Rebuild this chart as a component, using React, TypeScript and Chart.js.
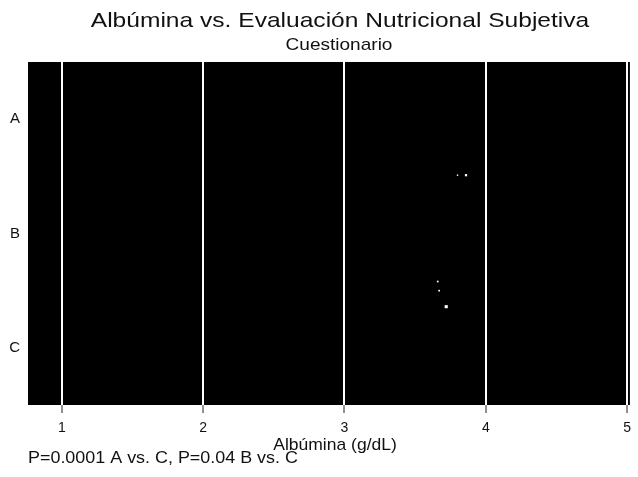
import React, { useEffect, useRef } from "react";
import { Chart, registerables } from "chart.js";

Chart.register(...registerables);

const categories = ["A", "B", "C"];
const xTickValues = [1, 2, 3, 4, 5];
const pointX = [3.8, 3.86, 3.66, 3.67, 3.72];
const pointY = [0.49, 0.49, 1.42, 1.5, 1.64];
const pointRadius = [1, 1.6, 1.2, 1.2, 2.2];

const titleText = "Albúmina vs. Evaluación Nutricional Subjetiva";
const subtitleText = "Cuestionario";
const xAxisTitle = "Albúmina (g/dL)";
const footnoteText = "P=0.0001 A vs. C, P=0.04 B vs. C";

const FONT = "'Liberation Sans', Arial, sans-serif";

function stretchedText(ctx: any, text: string, x: number, y: number, size: number, sx: number, align: string) {
  ctx.save();
  ctx.translate(x, y);
  ctx.scale(sx, 1);
  ctx.font = `${size}px ${FONT}`;
  ctx.textAlign = align;
  ctx.textBaseline = "alphabetic";
  ctx.fillText(text, 0, 0);
  ctx.restore();
}

const bgPlugin = {
  id: "blackArea",
  beforeDraw(chart: any) {
    const { ctx, chartArea: a } = chart;
    ctx.save();
    ctx.fillStyle = "#000";
    ctx.fillRect(a.left, a.top, a.right - a.left, a.bottom - a.top);
    ctx.restore();
  },
  afterDraw(chart: any) {
    const { ctx } = chart;
    ctx.save();
    ctx.fillStyle = "#111";
    stretchedText(ctx, titleText, 340, 27, 21, 1.17, "center");
    stretchedText(ctx, subtitleText, 339, 50, 17, 1.12, "center");
    stretchedText(ctx, xAxisTitle, 335, 450, 17, 1.03, "center");
    stretchedText(ctx, footnoteText, 28, 463, 16, 1.12, "left");
    ctx.restore();
  },
};

export default function App() {
  const ref = useRef<HTMLCanvasElement>(null);
  useEffect(() => {
    document.body.style.margin = "0";
    const chart = new Chart(ref.current!, {
      type: "scatter",
      data: {
        datasets: [
          {
            data: pointX.map((x, i) => ({ x, y: pointY[i] })),
            backgroundColor: "#fff",
            borderColor: "#fff",
            pointRadius: pointRadius,
            pointStyle: "rect",
            borderWidth: 0,
          },
        ],
      },
      options: {
        responsive: false,
        animation: false,
        layout: { padding: { top: 62, right: 7, left: 0, bottom: 0 } },
        plugins: { legend: { display: false }, tooltip: { enabled: false } },
        scales: {
          x: {
            type: "linear",
            min: 0.76,
            max: 5.02,
            afterBuildTicks: (s: any) => {
              s.ticks = xTickValues.map((v) => ({ value: v }));
            },
            afterFit: (s: any) => {
              s.height = 72;
            },
            border: { display: false },
            grid: {
              color: "#fff",
              lineWidth: 2,
              tickColor: "#222",
              tickLength: 8,
              tickWidth: 1,
            },
            ticks: {
              color: "#111",
              font: { family: FONT, size: 14 },
              padding: 7,
              maxRotation: 0,
            },
          },
          y: {
            type: "linear",
            reverse: true,
            min: -0.5,
            max: 2.5,
            afterBuildTicks: (s: any) => {
              s.ticks = categories.map((_, i) => ({ value: i }));
            },
            afterFit: (s: any) => {
              s.width = 28;
            },
            border: { display: false },
            grid: { display: false, drawTicks: false },
            ticks: {
              color: "#111",
              font: { family: FONT, size: 15 },
              padding: 8,
              callback: (v: any) => categories[Math.round(Number(v))] ?? "",
            },
          },
        },
      },
      plugins: [bgPlugin],
    });
    return () => chart.destroy();
  }, []);
  return (
    <div style={{ width: 638, height: 477, background: "#fff" }}>
      <canvas ref={ref} width={638} height={477} />
    </div>
  );
}
